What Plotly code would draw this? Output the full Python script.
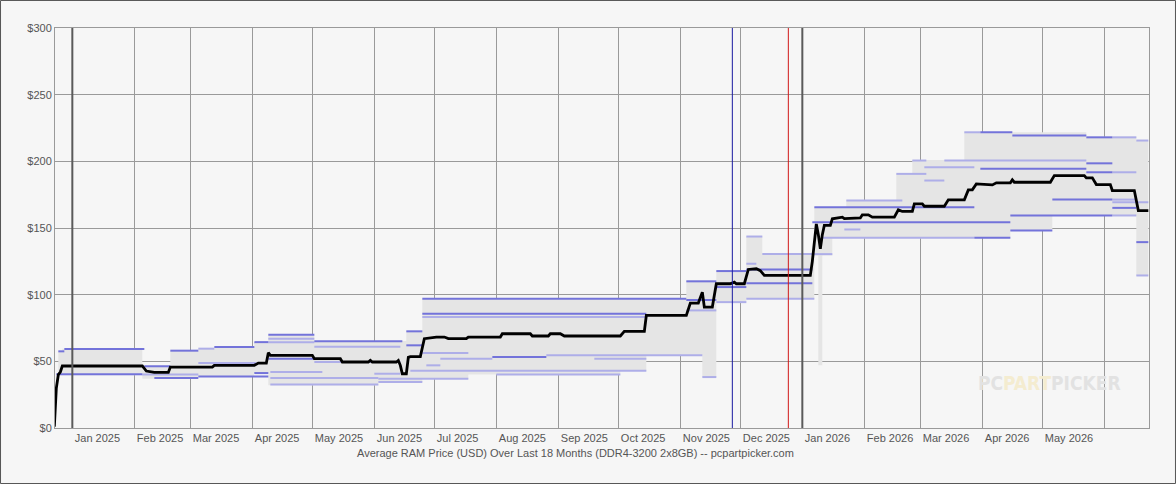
import plotly.graph_objects as go

# ---------------- data ----------------
avg_dates = [
    "2024-12-23", "2024-12-24", "2024-12-25", "2024-12-26", "2024-12-27",
    "2025-02-05", "2025-02-07", "2025-02-11", "2025-02-18", "2025-02-19",
    "2025-03-12", "2025-03-13", "2025-04-02", "2025-04-04", "2025-04-08",
    "2025-04-09", "2025-04-10", "2025-05-01", "2025-05-02", "2025-05-15",
    "2025-05-16", "2025-05-29", "2025-05-30", "2025-05-31", "2025-06-12",
    "2025-06-13", "2025-06-14", "2025-06-15", "2025-06-17", "2025-06-18",
    "2025-06-19", "2025-06-24", "2025-06-26", "2025-07-02", "2025-07-06",
    "2025-07-08", "2025-07-17", "2025-07-18", "2025-08-03", "2025-08-04",
    "2025-08-18", "2025-08-19", "2025-08-27", "2025-08-28", "2025-09-02",
    "2025-09-04", "2025-10-02", "2025-10-04", "2025-10-14", "2025-10-15",
    "2025-11-04", "2025-11-06", "2025-11-10", "2025-11-12", "2025-11-13",
    "2025-11-17", "2025-11-19", "2025-11-26", "2025-11-28", "2025-11-29",
    "2025-12-03", "2025-12-05", "2025-12-09", "2025-12-11", "2025-12-13",
    "2026-01-05", "2026-01-06", "2026-01-08", "2026-01-09", "2026-01-10",
    "2026-01-11", "2026-01-12", "2026-01-15", "2026-01-16", "2026-01-21",
    "2026-01-22", "2026-01-30", "2026-01-31", "2026-02-03", "2026-02-05",
    "2026-02-16", "2026-02-18", "2026-02-20", "2026-02-25", "2026-02-26",
    "2026-03-02", "2026-03-03", "2026-03-13", "2026-03-15", "2026-03-23",
    "2026-03-25", "2026-03-27", "2026-03-29", "2026-04-06", "2026-04-08",
    "2026-04-15", "2026-04-16", "2026-04-17", "2026-05-05", "2026-05-07",
    "2026-05-22", "2026-05-23", "2026-05-26", "2026-05-28", "2026-06-04",
    "2026-06-05", "2026-06-16", "2026-06-18", "2026-06-23",
]
avg_price = [
    1.0, 30.0, 40.0, 42.0, 46.5,
    46.5, 42.7, 41.7, 41.7, 45.7,
    45.7, 47.0, 47.0, 48.7, 48.7,
    56.5, 54.5, 54.5, 52.0, 52.0,
    49.5, 49.5, 50.7, 49.5, 49.5,
    50.7, 47.0, 40.7, 40.7, 53.0,
    53.5, 53.5, 67.0, 68.2, 68.2,
    67.0, 67.0, 68.2, 68.2, 70.7,
    70.7, 69.0, 69.0, 70.7, 70.7,
    69.0, 69.0, 72.5, 72.5, 84.4,
    84.4, 93.7, 93.7, 101.9, 90.7,
    90.7, 108.2, 108.2, 109.4, 108.2,
    108.2, 118.9, 119.4, 118.0, 114.4,
    114.4, 125.0, 153.0, 145.0, 134.4,
    145.0, 151.9, 151.9, 156.9, 158.1,
    157.0, 157.5, 159.9, 159.9, 158.1,
    158.1, 163.6, 162.4, 162.4, 168.1,
    168.1, 166.3, 166.3, 171.1, 171.1,
    178.6, 178.6, 183.1, 182.3, 183.9,
    183.9, 186.1, 184.3, 184.3, 189.3,
    189.3, 187.6, 187.6, 182.6, 182.6,
    178.1, 178.1, 163.1, 163.1,
]

# min / max envelope over all retailers (step changes)
band_dates = [
    "2024-12-25", "2024-12-27", "2025-02-05", "2025-02-19", "2025-03-05",
    "2025-03-13", "2025-04-02", "2025-04-09", "2025-05-02", "2025-06-03",
    "2025-06-17", "2025-06-25", "2025-07-18", "2025-10-02", "2025-10-15",
    "2025-11-04", "2025-11-12", "2025-11-19", "2025-12-04", "2025-12-12",
    "2026-01-07", "2026-01-09", "2026-01-11", "2026-01-16", "2026-01-23",
    "2026-02-17", "2026-02-25", "2026-03-23", "2026-04-15", "2026-05-06",
    "2026-05-23", "2026-06-17", "2026-06-23",
]
band_low = [
    39.5, 39.5, 37.0, 37.5, 38.5,
    38.5, 41.2, 32.0, 32.0, 34.5,
    34.5, 37.0, 40.2, 43.0, 54.5,
    54.5, 38.2, 94.4, 97.0, 97.0,
    129.4, 47.0, 129.4, 142.4, 142.4,
    142.4, 142.4, 142.4, 148.1, 159.4,
    159.4, 114.4, 114.4,
]
band_high = [
    57.5, 59.5, 47.0, 58.0, 59.5,
    60.7, 64.4, 70.0, 65.2, 65.2,
    73.0, 97.0, 97.0, 97.0, 97.0,
    110.7, 110.7, 118.2, 143.6, 131.0,
    165.6, 165.6, 165.6, 165.6, 170.6,
    190.6, 201.0, 221.8, 221.8, 221.8,
    218.5, 215.6, 215.6,
]

# individual retailer prices, strongly drawn
strong_start = [
    "2024-12-25", "2024-12-28", "2024-12-24", "2025-02-06", "2025-02-11",
    "2025-03-05", "2025-02-19", "2025-03-13", "2025-04-02", "2025-04-02",
    "2025-04-09", "2025-04-09", "2025-05-02", "2025-06-17", "2025-06-17",
    "2025-06-25", "2025-06-25", "2025-07-30", "2025-11-04", "2025-11-04",
    "2025-11-19", "2025-11-19", "2025-12-04", "2025-12-04", "2026-01-07",
    "2026-01-06", "2026-03-28", "2026-03-31", "2026-04-16", "2026-05-23",
    "2026-03-31", "2026-05-23", "2026-05-23", "2026-05-06", "2026-04-15",
    "2026-04-15", "2026-06-05", "2026-06-17",
]
strong_end = [
    "2024-12-28", "2025-02-06", "2025-02-05", "2025-02-19", "2025-03-05",
    "2025-04-09", "2025-03-05", "2025-04-02", "2025-04-09", "2025-04-09",
    "2025-05-02", "2025-05-02", "2025-06-15", "2025-06-25", "2025-06-25",
    "2025-11-04", "2025-10-15", "2025-08-26", "2025-11-19", "2025-11-19",
    "2025-12-04", "2025-12-04", "2026-01-06", "2026-01-06", "2026-03-28",
    "2026-04-15", "2026-04-15", "2026-04-16", "2026-05-23", "2026-06-05",
    "2026-05-23", "2026-06-05", "2026-06-05", "2026-06-05", "2026-06-05",
    "2026-05-06", "2026-06-17", "2026-06-23",
]
strong_price = [
    57.5, 59.3, 40.3, 46.3, 37.5,
    38.6, 58.0, 60.7, 64.4, 41.2,
    70.0, 52.0, 65.0, 72.5, 62.0,
    97.0, 85.7, 53.2, 110.0, 96.0,
    117.7, 105.7, 118.9, 108.6, 165.6,
    154.3, 142.6, 221.8, 219.3, 218.0,
    194.4, 198.5, 191.8, 171.3, 159.4,
    148.1, 165.1, 139.4,
]

# individual retailer prices, faintly drawn
faint_start = [
    "2025-02-05", "2025-03-05", "2025-03-05", "2025-04-09", "2025-04-09",
    "2025-04-10", "2025-04-10", "2025-04-10", "2025-05-02", "2025-05-02",
    "2025-06-01", "2025-06-19", "2025-06-25", "2025-07-04", "2025-08-26",
    "2025-06-25", "2025-06-03", "2025-08-01", "2025-06-03", "2025-09-19",
    "2025-06-27", "2025-11-04", "2025-11-12", "2025-11-19", "2025-12-04",
    "2025-12-04", "2025-12-12", "2025-12-04", "2026-01-06", "2026-01-11",
    "2026-01-22", "2026-01-23", "2026-02-17", "2026-02-25", "2026-03-03",
    "2026-03-03", "2026-03-13", "2026-06-05", "2026-06-05", "2026-06-17",
    "2026-03-23", "2026-06-05", "2026-06-05", "2026-06-05", "2026-06-17",
]
faint_end = [
    "2025-03-05", "2025-04-03", "2025-03-13", "2025-05-02", "2025-05-02",
    "2025-05-06", "2025-06-03", "2025-06-03", "2025-06-14", "2025-06-14",
    "2025-06-14", "2025-10-15", "2025-07-18", "2025-07-30", "2025-11-12",
    "2025-10-15", "2025-07-18", "2025-10-02", "2025-06-25", "2025-10-15",
    "2025-07-04", "2025-11-19", "2025-11-19", "2025-12-04", "2025-12-12",
    "2025-12-09", "2026-01-07", "2026-01-07", "2026-01-16", "2026-03-28",
    "2026-01-30", "2026-02-20", "2026-03-04", "2026-03-04", "2026-03-28",
    "2026-03-13", "2026-05-23", "2026-06-17", "2026-06-17", "2026-06-23",
    "2026-03-31", "2026-06-17", "2026-06-17", "2026-06-23", "2026-06-23",
]
faint_price = [
    40.2, 48.7, 59.5, 67.0, 64.4,
    42.0, 32.7, 37.5, 61.0, 49.5,
    40.7, 43.0, 56.2, 52.0, 54.5,
    83.2, 37.0, 40.2, 34.5, 52.0,
    47.0, 88.2, 38.2, 94.4, 143.6,
    123.2, 130.5, 97.0, 130.4, 142.6,
    148.9, 170.6, 190.6, 200.6, 195.6,
    185.6, 200.6, 191.8, 218.0, 215.6,
    221.8, 171.3, 159.4, 169.3, 114.4,
]

month_ticks = [
    "2025-01-01", "2025-02-01", "2025-03-01", "2025-04-01", "2025-05-01",
    "2025-06-01", "2025-07-01", "2025-08-01", "2025-09-01", "2025-10-01",
    "2025-11-01", "2025-12-01", "2026-01-01", "2026-02-01", "2026-03-01",
    "2026-04-01", "2026-05-01", "2026-06-01",
]
month_labels = [
    "Jan 2025", "Feb 2025", "Mar 2025", "Apr 2025", "May 2025", "Jun 2025",
    "Jul 2025", "Aug 2025", "Sep 2025", "Oct 2025", "Nov 2025", "Dec 2025",
    "Jan 2026", "Feb 2026", "Mar 2026", "Apr 2026", "May 2026", "",
]
price_ticks = [0, 50, 100, 150, 200, 250, 300]
price_labels = ["$0", "$50", "$100", "$150", "$200", "$250", "$300"]

year_starts = ["2025-01-01", "2026-01-01"]
black_friday = "2025-11-27"
christmas = "2025-12-25"
x_range = ["2024-12-23 08:00", "2026-06-23 08:00"]

TITLE = "Average RAM Price (USD) Over Last 18 Months (DDR4-3200 2x8GB) -- pcpartpicker.com"

# ---------------- figure ----------------
FONT = "Liberation Sans, Arial, sans-serif"
BG = "#f6f6f6"
GRID = "#9a9a9a"


def segments(starts, ends, prices):
    xs, ys = [], []
    for s, e, p in zip(starts, ends, prices):
        xs += [s, e, None]
        ys += [p, p, None]
    return xs, ys


fig = go.Figure()

# envelope
fig.add_trace(go.Scatter(x=band_dates, y=band_low, mode="lines", line=dict(width=0, shape="hv"),
                         showlegend=False, hoverinfo="skip"))
fig.add_trace(go.Scatter(x=band_dates, y=band_high, mode="lines", line=dict(width=0, shape="hv"),
                         fill="tonexty", fillcolor="#e5e5e5", showlegend=False, hoverinfo="skip"))

fx, fy = segments(faint_start, faint_end, faint_price)
fig.add_trace(go.Scatter(x=fx, y=fy, mode="lines", line=dict(color="#aeaee8", width=2),
                         showlegend=False, hoverinfo="skip"))
sx, sy = segments(strong_start, strong_end, strong_price)
fig.add_trace(go.Scatter(x=sx, y=sy, mode="lines", line=dict(color="#7373da", width=2),
                         showlegend=False, hoverinfo="skip"))

fig.add_trace(go.Scatter(x=avg_dates, y=avg_price, mode="lines",
                         line=dict(color="#000000", width=2.8),
                         showlegend=False, name="Average"))

shapes = []
for ys_ in year_starts:
    shapes.append(dict(type="line", xref="x", yref="paper", x0=ys_, x1=ys_, y0=0, y1=1,
                       line=dict(color="#5a5a5a", width=2), layer="above"))
shapes.append(dict(type="line", xref="x", yref="paper", x0=black_friday, x1=black_friday, y0=0, y1=1,
                   line=dict(color="#1a1aa0", width=1), layer="above"))
shapes.append(dict(type="line", xref="x", yref="paper", x0=christmas, x1=christmas, y0=0, y1=1,
                   line=dict(color="#d01818", width=1), layer="above"))
# outer frame of the image
shapes.append(dict(type="rect", xref="paper", yref="paper",
                   x0=-0.0498, x1=1.0242, y0=-0.1388, y1=1.0688,
                   line=dict(color="#555555", width=1), layer="below"))

fig.update_layout(
    width=1176, height=484,
    margin=dict(l=55, r=27, t=28, b=56),
    paper_bgcolor=BG, plot_bgcolor=BG,
    font=dict(family=FONT, size=11, color="#555555"),
    shapes=shapes,
    hovermode=False,
    annotations=[
        dict(text=TITLE, xref="paper", yref="paper", x=0.476, y=-0.063,
             xanchor="center", yanchor="middle", showarrow=False,
             font=dict(family=FONT, size=11, color="#555555")),
        dict(text="<b><span style='color:#e2e2e2'>PC</span><span style='color:#f4ecd0'>PART</span>"
                  "<span style='color:#e2e2e2'>PICKER</span></b>",
             xref="paper", yref="paper", x=0.9095, y=0.1125, xanchor="center", yanchor="middle",
             showarrow=False, font=dict(family="DejaVu Sans Condensed, DejaVu Sans", size=19)),
    ],
)
fig.update_xaxes(
    type="date", range=x_range,
    tickvals=month_ticks, ticktext=month_labels,
    ticklabelposition="outside right", ticklabelshift=2,
    showgrid=True, gridcolor=GRID, gridwidth=1,
    showline=True, linecolor=GRID, linewidth=1, mirror=True,
    ticks="", zeroline=False,
)
fig.update_yaxes(
    range=[0, 300], tickvals=price_ticks, ticktext=price_labels,
    showgrid=True, gridcolor=GRID, gridwidth=1,
    showline=True, linecolor=GRID, linewidth=1, mirror=True,
    ticks="", zeroline=False,
)

fig.write_html(
    "out.html",
    config={"displayModeBar": False},
    post_script="document.body.style.margin='0';document.body.style.background='#f6f6f6';",
)
